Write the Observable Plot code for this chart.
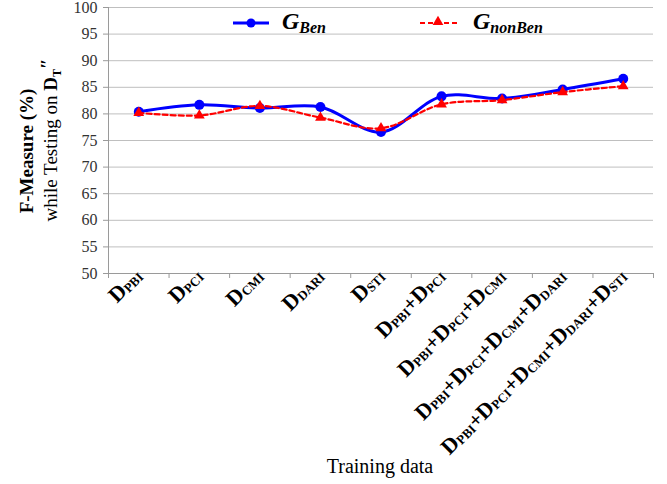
<!DOCTYPE html>
<html><head><meta charset="utf-8">
<script src="https://cdn.jsdelivr.net/npm/d3@7"></script>
<script src="https://cdn.jsdelivr.net/npm/@observablehq/plot@0.6"></script>
<style>
body{margin:0;background:#fff}
#chart{position:relative;width:667px;height:484px}
</style>
</head><body><div id="chart"></div>
<script>
const categories = ["D_PBI","D_PCI","D_CMI","D_DARI","D_STI","D_PBI+D_PCI","D_PBI+D_PCI+D_CMI","D_PBI+D_PCI+D_CMI+D_DARI","D_PBI+D_PCI+D_CMI+D_DARI+D_STI"];
const gBen = [80.4, 81.7, 81.1, 81.3, 76.6, 83.3, 82.9, 84.6, 86.6];
const gNonBen = [80.2, 79.7, 81.5, 79.3, 77.3, 81.8, 82.6, 84.1, 85.2];
const yTicks = [50, 55, 60, 65, 70, 75, 80, 85, 90, 95, 100];
const seriesNames = ["Ben", "nonBen"];
const xLabel = "Training data";
const yLabel1 = "F-Measure (%)";
const yLabel2 = "while Testing on ";

const idx = d3.range(categories.length);
const bounds = d3.range(categories.length + 1).map(i => i - 0.5);
const FONT = "Liberation Serif, Times New Roman, serif";

const plot = Plot.plot({
  width: 667, height: 484,
  marginLeft: 108, marginRight: 14, marginTop: 7, marginBottom: 211,
  style: {fontFamily: FONT, background: "#fff", overflow: "visible"},
  x: {type: "linear", domain: [-0.5, categories.length - 0.5]},
  y: {domain: [50, 100]},
  marks: [
    Plot.gridY(yTicks, {stroke: "#bfbfbf", strokeOpacity: 1, strokeWidth: 1}),
    Plot.ruleX([-0.5], {stroke: "#9a9a9a"}),
    Plot.ruleY([50], {stroke: "#9a9a9a"}),
    Plot.axisY({ticks: yTicks, tickSize: 5, tickPadding: 6, fontSize: 16, label: null, stroke: "#9a9a9a", fill: "#333"}),
    Plot.axisX({ticks: bounds, tickSize: 5, tickFormat: () => "", label: null, stroke: "#9a9a9a"}),
    Plot.axisX({ticks: idx, tickSize: 0, tickPadding: -1, tickRotate: -45, tickFormat: i => categories[i], label: null, fill: "#000", fontSize: 21}),
    Plot.line(gBen, {x: (d, i) => i, y: d => d, stroke: "#0000ff", strokeWidth: 3, curve: "catmull-rom"}),
    Plot.dot(gBen, {x: (d, i) => i, y: d => d, r: 5, fill: "#0000ff", stroke: "none"}),
    Plot.line(gNonBen, {x: (d, i) => i, y: d => d, stroke: "#ff0000", strokeWidth: 2.2, strokeDasharray: "5,3", curve: "catmull-rom"}),
    Plot.dot(gNonBen, {x: (d, i) => i, y: d => d, r: 4, symbol: "triangle", fill: "#ff0000", stroke: "none"})
  ]
});
document.getElementById("chart").appendChild(plot);
const svg = d3.select(plot);

// rich tick labels with subscripts
svg.selectAll('g[aria-label="x-axis tick label"] text').each(function() {
  const t = d3.select(this);
  const s = t.text();
  t.text("");
  t.attr("font-weight", "bold");
  s.split("+").forEach((p, j) => {
    if (j > 0) t.append("tspan").attr("font-size", 21).attr("dy", -1).text("+");
    const [main, sub] = p.split("_");
    t.append("tspan").attr("font-size", 22).text(main);
    t.append("tspan").attr("font-size", 13).attr("dy", 1).text(sub);
  });
});

// y-axis label
svg.append("text")
  .attr("transform", "translate(33,151) rotate(-90)")
  .attr("text-anchor", "middle").attr("font-family", FONT)
  .attr("font-size", 19).attr("font-weight", "bold").attr("fill", "#000")
  .text(yLabel1);
const l2 = svg.append("text")
  .attr("transform", "translate(57,140) rotate(-90)")
  .attr("text-anchor", "middle").attr("font-family", FONT)
  .attr("font-size", 19).attr("fill", "#000");
l2.append("tspan").text(yLabel2);
l2.append("tspan").attr("font-weight", "bold").text("D");
l2.append("tspan").attr("font-size", 12).attr("font-weight", "bold").attr("dy", 4).text("T");
l2.append("tspan").attr("font-size", 19).attr("font-weight", "bold").attr("dy", -7).text("\u2033");

// x-axis title
svg.append("text")
  .attr("x", 380).attr("y", 473).attr("text-anchor", "middle")
  .attr("font-family", FONT).attr("font-size", 20).attr("fill", "#000")
  .text(xLabel);

// legend
const lg = svg.append("g").attr("font-family", FONT).attr("text-anchor", "start");
lg.append("line").attr("x1", 233).attr("x2", 269).attr("y1", 23).attr("y2", 23).attr("stroke", "#0000ff").attr("stroke-width", 3);
lg.append("circle").attr("cx", 251).attr("cy", 23).attr("r", 4.5).attr("fill", "#0000ff");
const t1 = lg.append("text").attr("x", 282).attr("y", 29).attr("font-size", 24).attr("font-weight", "bold").attr("font-style", "italic");
t1.append("tspan").text("G");
t1.append("tspan").attr("font-size", 16).attr("dy", 4).text(seriesNames[0]);
lg.append("line").attr("x1", 420).attr("x2", 457).attr("y1", 23).attr("y2", 23).attr("stroke", "#ff0000").attr("stroke-width", 2.2).attr("stroke-dasharray", "5,3");
lg.append("path").attr("d", d3.symbol(d3.symbolTriangle, 50)()).attr("transform", "translate(438,22)").attr("fill", "#ff0000");
const t2 = lg.append("text").attr("x", 473).attr("y", 29).attr("font-size", 24).attr("font-weight", "bold").attr("font-style", "italic");
t2.append("tspan").text("G");
t2.append("tspan").attr("font-size", 16).attr("dy", 4).text(seriesNames[1]);
</script>
</body></html>
